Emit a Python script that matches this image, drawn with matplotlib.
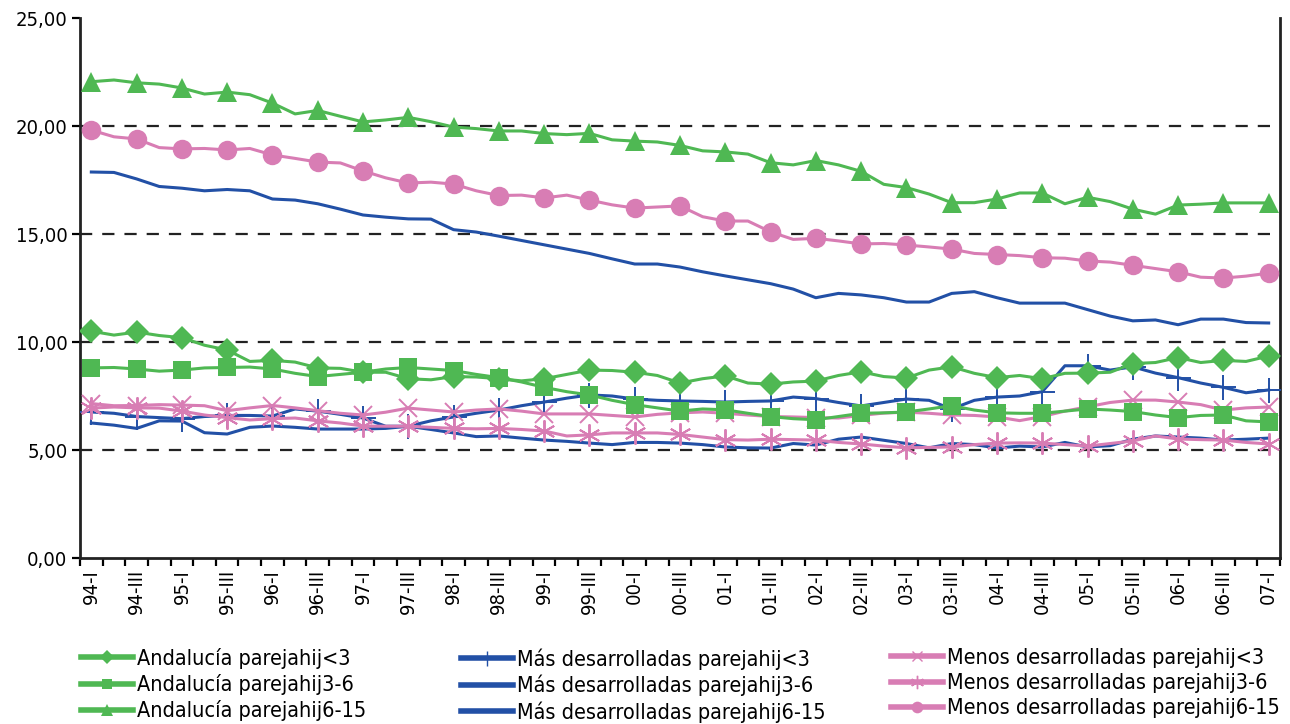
import matplotlib
matplotlib.use("Agg")
import matplotlib.pyplot as plt
from matplotlib.lines import Line2D
from matplotlib import font_manager
import numpy as np

# ---------------- data ----------------
years = ["94", "95", "96", "97", "98", "99", "00", "01", "02", "03", "04", "05", "06"]
quarters = ["I", "II", "III", "IV"]
categories = [f"{y}-{q}" for y in years for q in quarters] + ["07-I"]

and_lt3 = [10.5, 10.32, 10.46, 10.3, 10.2, 9.85, 9.63, 9.1, 9.15, 9.07, 8.8, 8.78, 8.6, 8.6,
           8.3, 8.25, 8.4, 8.38, 8.3, 8.2, 8.3, 8.5, 8.7, 8.68, 8.6, 8.45, 8.1, 8.3, 8.43, 8.1,
           8.05, 8.15, 8.19, 8.45, 8.62, 8.4, 8.33, 8.7, 8.85, 8.55, 8.35, 8.45, 8.3, 8.55, 8.56,
           8.6, 9.0, 9.05, 9.28, 9.05, 9.15, 9.1, 9.35]
and_3_6 = [8.8, 8.82, 8.75, 8.65, 8.7, 8.8, 8.82, 8.84, 8.75, 8.55, 8.4, 8.5, 8.6, 8.75,
           8.82, 8.75, 8.68, 8.5, 8.35, 8.15, 7.9, 7.7, 7.55, 7.3, 7.1, 6.95, 6.8, 6.9, 6.86,
           6.7, 6.55, 6.45, 6.4, 6.55, 6.7, 6.72, 6.76, 6.9, 7.05, 6.85, 6.72, 6.7, 6.7, 6.8,
           6.9, 6.85, 6.78, 6.62, 6.5, 6.6, 6.62, 6.35, 6.3]
and_6_15 = [22.05, 22.13, 22.0, 21.94, 21.76, 21.48, 21.57, 21.45, 21.06, 20.56, 20.72, 20.45,
            20.19, 20.28, 20.4, 20.2, 19.95, 19.88, 19.77, 19.77, 19.65, 19.6, 19.66, 19.36,
            19.3, 19.26, 19.1, 18.85, 18.8, 18.7, 18.3, 18.2, 18.4, 18.2, 17.9, 17.3, 17.15,
            16.85, 16.45, 16.45, 16.62, 16.9, 16.9, 16.4, 16.7, 16.5, 16.15, 15.92, 16.34,
            16.38, 16.44, 16.44, 16.44]
mas_lt3 = [6.76, 6.7, 6.55, 6.5, 6.45, 6.55, 6.6, 6.6, 6.57, 6.9, 6.8, 6.65, 6.48, 6.1, 6.1,
           6.35, 6.53, 6.7, 6.85, 7.05, 7.22, 7.4, 7.55, 7.5, 7.36, 7.3, 7.27, 7.25, 7.22, 7.25,
           7.27, 7.45, 7.38, 7.2, 7.04, 7.2, 7.36, 7.3, 6.9, 7.3, 7.45, 7.5, 7.7, 8.9, 8.9, 8.7,
           8.85, 8.56, 8.35, 8.1, 7.9, 7.65, 7.78]
mas_3_6 = [6.25, 6.15, 6.0, 6.35, 6.34, 5.8, 5.74, 6.05, 6.11, 6.05, 5.97, 5.97, 5.97, 6.0,
           6.1, 5.95, 5.79, 5.62, 5.65, 5.55, 5.46, 5.4, 5.32, 5.25, 5.35, 5.35, 5.32, 5.25,
           5.14, 5.1, 5.09, 5.3, 5.23, 5.5, 5.6, 5.45, 5.3, 5.1, 5.3, 5.25, 5.09, 5.18, 5.14,
           5.35, 5.14, 5.2, 5.5, 5.65, 5.6, 5.55, 5.46, 5.5, 5.55]
mas_6_15 = [17.87, 17.85, 17.55, 17.2, 17.12, 17.0, 17.06, 17.0, 16.62, 16.57, 16.4, 16.15,
            15.88, 15.78, 15.7, 15.69, 15.2, 15.09, 14.9, 14.7, 14.5, 14.3, 14.1, 13.85,
            13.61, 13.61, 13.47, 13.25, 13.06, 12.88, 12.7, 12.45, 12.05, 12.25, 12.18, 12.05,
            11.85, 11.85, 12.25, 12.33, 12.05, 11.8, 11.8, 11.8, 11.5, 11.2, 10.98, 11.02,
            10.8, 11.06, 11.06, 10.9, 10.88]
menos_lt3 = [7.15, 7.05, 7.06, 7.1, 7.08, 7.05, 6.82, 6.95, 7.06, 6.95, 6.82, 6.7, 6.62, 6.75,
             6.94, 6.85, 6.76, 6.85, 6.9, 6.8, 6.67, 6.67, 6.67, 6.6, 6.53, 6.65, 6.72, 6.76,
             6.7, 6.62, 6.55, 6.53, 6.5, 6.48, 6.6, 6.71, 6.75, 6.7, 6.62, 6.6, 6.53, 6.36,
             6.55, 6.8, 7.0, 7.2, 7.31, 7.31, 7.22, 7.1, 6.85, 6.95, 6.99]
menos_3_6 = [6.94, 6.99, 6.95, 6.94, 6.8, 6.62, 6.5, 6.39, 6.45, 6.48, 6.35, 6.25, 6.11, 6.1,
             6.1, 6.05, 6.0, 5.98, 6.0, 5.95, 5.88, 5.65, 5.7, 5.79, 5.79, 5.79, 5.72, 5.6,
             5.48, 5.46, 5.5, 5.48, 5.46, 5.35, 5.28, 5.18, 5.1, 5.12, 5.14, 5.25, 5.32, 5.33,
             5.32, 5.25, 5.18, 5.3, 5.42, 5.65, 5.51, 5.48, 5.46, 5.35, 5.28]
menos_6_15 = [19.81, 19.5, 19.4, 19.0, 18.94, 18.96, 18.89, 18.96, 18.66, 18.5, 18.33, 18.29,
              17.92, 17.6, 17.36, 17.4, 17.31, 17.0, 16.78, 16.8, 16.67, 16.8, 16.57, 16.35,
              16.2, 16.25, 16.3, 15.8, 15.6, 15.6, 15.1, 14.75, 14.8, 14.68, 14.54, 14.56,
              14.49, 14.4, 14.3, 14.1, 14.05, 14.0, 13.9, 13.88, 13.75, 13.7, 13.55, 13.4,
              13.25, 13.0, 12.96, 13.05, 13.19]

series_labels = ["Andalucía parejahij<3", "Andalucía parejahij3-6", "Andalucía parejahij6-15",
                 "Más desarrolladas parejahij<3", "Más desarrolladas parejahij3-6",
                 "Más desarrolladas parejahij6-15",
                 "Menos desarrolladas parejahij<3", "Menos desarrolladas parejahij3-6",
                 "Menos desarrolladas parejahij6-15"]
yticks = [0, 5, 10, 15, 20, 25]

# ---------------- style ----------------
GREEN = "#4FB853"
BLUE = "#2250A6"
PINK = "#D87DB4"
plt.rcParams["font.family"] = ["DejaVu Sans"]
plt.rcParams["font.stretch"] = "condensed"
fp_tick = font_manager.FontProperties(family="DejaVu Sans", stretch="condensed", size=14.5)
fp_leg = font_manager.FontProperties(family="DejaVu Sans", stretch="condensed", size=15.5)

series = [
    (and_lt3, GREEN, "D", 12),
    (and_3_6, GREEN, "s", 13),
    (and_6_15, GREEN, "^", 15),
    (mas_lt3, BLUE, "+", 18),
    (mas_3_6, BLUE, None, 0),
    (mas_6_15, BLUE, None, 0),
    (menos_lt3, PINK, "x", 13),
    (menos_3_6, PINK, (6, 2, 0), 16),
    (menos_6_15, PINK, "o", 14),
]

fig = plt.figure(figsize=(12.9, 7.24), dpi=100)
ax = fig.add_axes([80 / 1290, 1 - 558 / 724, 1200 / 1290, 540 / 724])

x = np.arange(len(categories))
handles = []
draw_order = [4, 3, 6, 7, 1, 0, 5, 8, 2]
for idx in draw_order:
    vals, col, mk, ms = series[idx]
    if mk is None:
        ax.plot(x, vals, color=col, lw=2.2, zorder=3)
    else:
        thin = mk in ("+", "x") or isinstance(mk, tuple)
        ax.plot(x, vals, color=col, lw=2.2, marker=mk, markersize=ms, markevery=2,
                markeredgewidth=1.4 if thin else 0,
                markeredgecolor=col, markerfacecolor=col, zorder=3)

for idx in range(9):
    vals, col, mk, ms = series[idx]
    thin = mk in ("+", "x") or isinstance(mk, tuple)
    h = Line2D([], [], color=col, lw=4, marker=mk if mk else None,
               markersize=ms * 0.6 if mk else 0,
               markeredgewidth=1.0 if thin else 0,
               markeredgecolor=col, markerfacecolor=col)
    handles.append(h)

ax.set_xlim(-0.5, len(categories) - 0.5)
ax.set_ylim(0, 25)
ax.set_yticks(yticks)
ax.set_yticklabels([f"{v:.2f}".replace(".", ",") for v in yticks], fontproperties=fp_tick)
for v in yticks[1:-1]:
    ax.axhline(v, color="#222222", lw=1.6, ls=(0, (5.5, 4.5)), zorder=1)

ax.set_xticks(np.arange(-0.5, len(categories), 1.0), minor=False)
ax.set_xticklabels([])
ax.set_xticks(x[::2], minor=True)
ax.set_xticklabels(categories[::2], minor=True, rotation=90, fontproperties=fp_tick)
ax.tick_params(axis="x", which="major", length=6, width=1.6, direction="out")
ax.tick_params(axis="x", which="minor", length=0, pad=8)
ax.tick_params(axis="y", length=6, width=1.6, direction="out", pad=3)

for s in ["left", "bottom", "right"]:
    ax.spines[s].set_linewidth(2)
    ax.spines[s].set_color("#222222")
ax.spines["top"].set_visible(False)

col_x = [81, 461, 891]
for c in range(3):
    fig.legend(handles[c * 3:(c + 1) * 3], series_labels[c * 3:(c + 1) * 3],
               loc="upper left", bbox_to_anchor=(col_x[c] / 1290, 1 - 648 / 724),
               frameon=False, prop=fp_leg, handlelength=2.4, handletextpad=0.2,
               labelspacing=0.24, borderaxespad=0, borderpad=0)

fig.savefig("out.png", dpi=100)
